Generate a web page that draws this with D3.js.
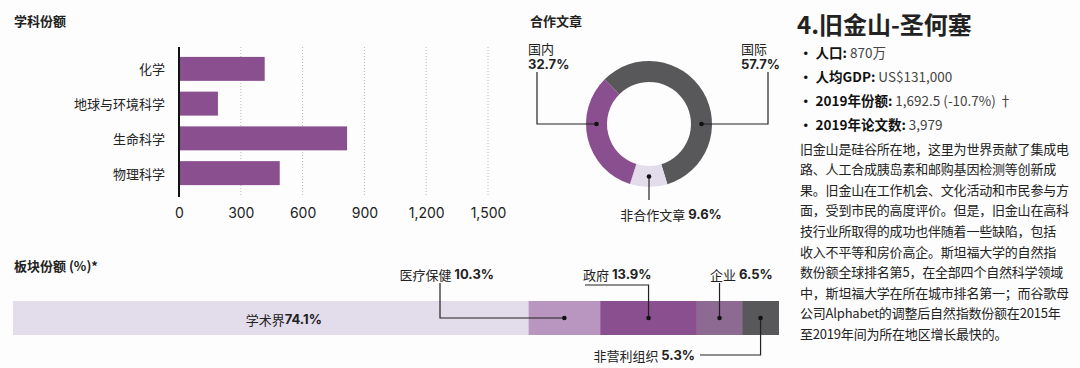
<!DOCTYPE html>
<html><head><meta charset="utf-8">
<script src="https://cdn.jsdelivr.net/npm/d3@7"></script>
<style>
html,body{margin:0;padding:0;background:#fdfdfd;}
svg{display:block;}
text{font-family:"Inter","Noto Sans CJK SC",sans-serif;fill:#222;}
.cjk{font-family:"Noto Sans CJK SC",sans-serif;}
</style></head>
<body>
<svg id="c" width="1080" height="368"></svg>
<script>
// ---- data ----
const subjectCats = ["化学","地球与环境科学","生命科学","物理科学"];
const subjectVals = [416, 189, 816, 489];
const subjectTicks = [0,300,600,900,1200,1500];

const collabCats = ["国际","非合作文章","国内"];
const collabVals = [57.7, 9.6, 32.7];

const sectorCats = ["学术界","医疗保健","政府","企业","非营利组织"];
const sectorVals = [74.1, 10.3, 13.9, 6.5, 5.3];

const cityTitle = "4.旧金山-圣何塞";
const factLabels = ["人口:","人均GDP:","2019年份额:","2019年论文数:"];
const factValues = ["870万","US$131,000","1,692.5 (-10.7%) †","3,979"];
const paragraph = [
"旧金山是硅谷所在地，这里为世界贡献了集成电",
"路、人工合成胰岛素和邮购基因检测等创新成",
"果。旧金山在工作机会、文化活动和市民参与方",
"面，受到市民的高度评价。但是，旧金山在高科",
"技行业所取得的成功也伴随着一些缺陷，包括",
"收入不平等和房价高企。斯坦福大学的自然指",
"数份额全球排名第5，在全部四个自然科学领域",
"中，斯坦福大学在所在城市排名第一；而谷歌母",
"公司Alphabet的调整后自然指数份额在2015年",
"至2019年间为所在地区增长最快的。"
];

const svg = d3.select("#c");
const PURPLE = "#8a4f8e", GRAY = "#58575a", LIGHT = "#e3dcea";

// ---- subject bar chart ----
svg.append("text").attr("x",14).attr("y",20).attr("dominant-baseline","central")
  .attr("font-size",13).attr("font-weight","bold").attr("class","cjk").text("学科份额");

const x = d3.scaleLinear().domain([0,1500]).range([179,488]);
const y = d3.scaleBand().domain(subjectCats).range([51.5,190.5]).paddingInner(0.31).paddingOuter(0.155);

svg.append("g").selectAll("line").data(subjectTicks.slice(1)).join("line")
  .attr("x1",d=>x(d)).attr("x2",d=>x(d)).attr("y1",47).attr("y2",197)
  .attr("stroke","#b8b8b8").attr("stroke-width",1).attr("stroke-dasharray","1,2");

svg.append("g").selectAll("rect").data(subjectCats).join("rect")
  .attr("x",x(0)).attr("y",d=>y(d)).attr("height",y.bandwidth())
  .attr("width",(d,i)=>x(subjectVals[i])-x(0)).attr("fill",PURPLE);

svg.append("line").attr("x1",x(0)).attr("x2",x(0)).attr("y1",47).attr("y2",197)
  .attr("stroke","#111").attr("stroke-width",2);

svg.append("g").selectAll("text").data(subjectCats).join("text")
  .attr("class","cjk").attr("x",165).attr("y",d=>y(d)+y.bandwidth()/2)
  .attr("dominant-baseline","central").attr("text-anchor","end")
  .attr("font-size",13).text(d=>d);

const xAxis = svg.append("g").attr("transform","translate(0,205)")
  .call(d3.axisBottom(x).tickValues(subjectTicks).tickFormat(d3.format(",")).tickSize(0));
xAxis.select(".domain").remove();
xAxis.selectAll("text").attr("font-size",14).attr("fill","#333")
  .attr("font-family","Inter, sans-serif").attr("dy","0.71em");

// ---- donut ----
svg.append("text").attr("x",530).attr("y",20).attr("dominant-baseline","central")
  .attr("font-size",13).attr("font-weight","bold").attr("class","cjk").text("合作文章");

const cx = 649, cy = 124;
const start = -0.78;
const pie = d3.pie().sort(null).startAngle(start).endAngle(start+2*Math.PI);
const arc = d3.arc().innerRadius(42).outerRadius(63);
const donutColors = [GRAY, LIGHT, PURPLE];
const g = svg.append("g").attr("transform",`translate(${cx},${cy})`);
g.selectAll("path").data(pie(collabVals)).join("path")
  .attr("d",arc).attr("fill",(d,i)=>donutColors[i]);

const midR = 52.5;
const pt = a => [cx + midR*Math.sin(a), cy - midR*Math.cos(a)];
const pIntl = pt(Math.PI/2), pNone = pt(Math.PI), pDom = pt(3*Math.PI/2);
const line = d3.line();
const lineStyle = s => s.attr("fill","none").attr("stroke","#222").attr("stroke-width",1.2);
svg.append("path").attr("d",line([pDom,[537,pDom[1]],[537,72]])).call(lineStyle);
svg.append("path").attr("d",line([pIntl,[768,pIntl[1]],[768,72]])).call(lineStyle);
svg.append("path").attr("d",line([pNone,[pNone[0],200]])).call(lineStyle);
[pDom,pIntl,pNone].forEach(p=>svg.append("circle").attr("cx",p[0]).attr("cy",p[1]).attr("r",2.3).attr("fill","#111"));

const fmtPct = v => d3.format(".1f")(v)+"%";
svg.append("text").attr("class","cjk").attr("x",528).attr("y",48).attr("dominant-baseline","central")
  .attr("font-size",13).text(collabCats[2]);
svg.append("text").attr("x",528).attr("y",64).attr("dominant-baseline","central")
  .attr("font-size",13).attr("font-weight","bold").text(fmtPct(collabVals[2]));
svg.append("text").attr("class","cjk").attr("x",741).attr("y",48).attr("dominant-baseline","central")
  .attr("font-size",13).text(collabCats[0]);
svg.append("text").attr("x",741).attr("y",64).attr("dominant-baseline","central")
  .attr("font-size",13).attr("font-weight","bold").text(fmtPct(collabVals[0]));
const tNone = svg.append("text").attr("x",671).attr("y",214).attr("dominant-baseline","central")
  .attr("text-anchor","middle").attr("font-size",13);
tNone.append("tspan").attr("class","cjk").text(collabCats[1]+" ");
tNone.append("tspan").attr("font-weight","bold").text(fmtPct(collabVals[1]));

// ---- sector stacked bar ----
svg.append("text").attr("x",14).attr("y",265).attr("dominant-baseline","central")
  .attr("font-size",13).attr("font-weight","bold").attr("class","cjk").text("板块份额 (%)*");

const total = d3.sum(sectorVals);
const sx = d3.scaleLinear().domain([0,total]).range([13,779]);
const cum = d3.cumsum(sectorVals);
const segs = sectorVals.map((v,i)=>({cat:sectorCats[i], v, x0:sx(cum[i]-v), x1:sx(cum[i])}));
const sectorColors = [LIGHT,"#b896c0","#8a4f8f","#8d6a91","#58585a"];
const by0 = 301, by1 = 335, bmid = (by0+by1)/2;
svg.append("g").selectAll("rect").data(segs).join("rect")
  .attr("x",d=>d.x0).attr("y",by0).attr("width",d=>d.x1-d.x0).attr("height",by1-by0)
  .attr("fill",(d,i)=>sectorColors[i]);

const mid = d => (d.x0+d.x1)/2;
const tA = svg.append("text").attr("x",mid(segs[0])+13).attr("y",bmid+1).attr("dominant-baseline","central")
  .attr("text-anchor","middle").attr("font-size",13);
tA.append("tspan").attr("class","cjk").text(segs[0].cat);
tA.append("tspan").attr("font-weight","bold").text(fmtPct(segs[0].v));

function label(xp, yp, anchor, d){
  const t = svg.append("text").attr("x",xp).attr("y",yp).attr("dominant-baseline","central")
    .attr("text-anchor",anchor).attr("font-size",13);
  t.append("tspan").attr("class","cjk").text(d.cat+" ");
  t.append("tspan").attr("font-weight","bold").text(fmtPct(d.v));
}
label(494,274,"end",segs[1]);
label(583,274,"start",segs[2]);
label(710,274,"start",segs[3]);
label(695,355,"end",segs[4]);

svg.append("path").attr("d",line([[mid(segs[1]),bmid],[440,bmid],[440,283]])).call(lineStyle);
svg.append("path").attr("d",line([[585,285],[mid(segs[2]),285],[mid(segs[2]),bmid]])).call(lineStyle);
svg.append("path").attr("d",line([[mid(segs[3]),283],[mid(segs[3]),bmid]])).call(lineStyle);
svg.append("path").attr("d",line([[mid(segs[4]),bmid],[mid(segs[4]),355],[700,355]])).call(lineStyle);
segs.slice(1).forEach(d=>svg.append("circle").attr("cx",mid(d)).attr("cy",bmid).attr("r",2.3).attr("fill","#111"));

// ---- text panel ----
svg.append("text").attr("class","cjk").attr("x",797).attr("y",23).attr("dominant-baseline","central")
  .attr("font-size",24).attr("font-weight","bold").attr("fill","#111").text(cityTitle);

factLabels.forEach((lab,i)=>{
  const t = svg.append("text").attr("class","cjk").attr("x",799).attr("y",52+i*24)
    .attr("dominant-baseline","central").attr("font-size",13.5);
  t.append("tspan").attr("font-weight","bold").attr("fill","#111").text("• "+lab);
  t.append("tspan").attr("fill","#444").text(" "+factValues[i]);
});

paragraph.forEach((ln,i)=>{
  svg.append("text").attr("class","cjk").attr("x",800).attr("y",148+i*20.6)
    .attr("dominant-baseline","central").attr("font-size",13).attr("letter-spacing",-0.2)
    .attr("fill","#333").text(ln);
});
</script>
</body></html>
